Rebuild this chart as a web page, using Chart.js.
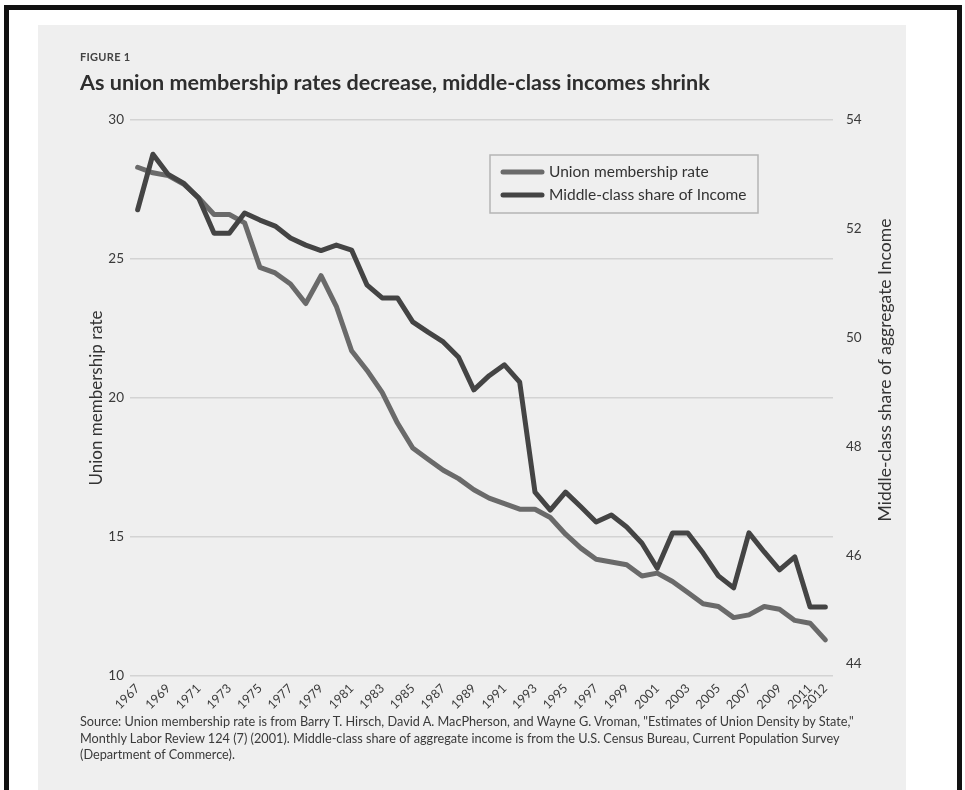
<!DOCTYPE html>
<html>
<head>
<meta charset="utf-8">
<script src="https://cdn.jsdelivr.net/npm/chart.js@4.4.1/dist/chart.umd.min.js"></script>
<style>
html,body{margin:0;padding:0;background:#fff;}
body{width:965px;height:790px;position:relative;overflow:hidden;font-family:Lato,"Open Sans",sans-serif;}
#frame{position:absolute;left:4px;top:5px;width:958px;height:800px;border:5px solid #111;box-sizing:border-box;}
#panel{position:absolute;left:38px;top:25px;width:868px;height:780px;background:#efefef;}
#chartBox{position:absolute;left:0;top:0;width:965px;height:790px;}
#fig{position:absolute;left:80px;top:50px;font-size:11px;font-weight:bold;color:#444;letter-spacing:.3px;}
#title{position:absolute;left:80px;top:69px;font-size:21.6px;font-weight:bold;color:#2e2e2e;}
#source{position:absolute;left:80px;top:713px;width:840px;font-size:12.7px;line-height:16.5px;color:#3a3a3a;}
</style>
</head>
<body>
<div id="frame"></div>
<div id="panel"></div>
<div id="chartBox"><canvas id="chart" width="965" height="790"></canvas></div>
<div id="fig">FIGURE 1</div>
<div id="title">As union membership rates decrease, middle-class incomes shrink</div>
<div id="source">Source: Union membership rate is from Barry T. Hirsch, David A. MacPherson, and Wayne G. Vroman, "Estimates of Union Density by State,"<br>Monthly Labor Review 124 (7) (2001). Middle-class share of aggregate income is from the U.S. Census Bureau, Current Population Survey<br>(Department of Commerce).</div>
<script>
// --- data ---
const years = ["1967","1968","1969","1970","1971","1972","1973","1974","1975","1976",
  "1977","1978","1979","1980","1981","1982","1983","1984","1985","1986",
  "1987","1988","1989","1990","1991","1992","1993","1994","1995","1996",
  "1997","1998","1999","2000","2001","2002","2003","2004","2005","2006",
  "2007","2008","2009","2010","2011","2012"];

// union membership rate (%), left axis
const unionRate = [28.3,28.1,28.0,27.7,27.2,26.6,26.6,26.3,24.7,24.5,
  24.1,23.4,24.4,23.3,21.7,21.0,20.2,19.1,18.2,17.8,
  17.4,17.1,16.7,16.4,16.2,16.0,16.0,15.7,15.1,14.6,
  14.2,14.1,14.0,13.6,13.7,13.4,13.0,12.6,12.5,12.1,
  12.2,12.5,12.4,12.0,11.9,11.3];

// middle-class share of aggregate income (%), right axis
const middleShare = [52.35,53.37,53.0,52.84,52.56,51.92,51.92,52.29,52.16,52.05,
  51.83,51.7,51.6,51.7,51.61,50.97,50.73,50.73,50.29,50.1,
  49.92,49.64,49.04,49.3,49.5,49.18,47.16,46.83,47.16,46.89,
  46.61,46.74,46.52,46.22,45.76,46.41,46.41,46.04,45.62,45.4,
  46.41,46.06,45.73,45.97,45.05,45.05];

const leftTicks = [10,15,20,25,30];
const rightTicks = [44,46,48,50,52,54];
const leftTitle = "Union membership rate";
const rightTitle = "Middle-class share of aggregate Income";
const seriesNames = ["Union membership rate","Middle-class share of Income"];

const FONT = "Lato, 'Open Sans', sans-serif";

// right axis title reads bottom-to-top, so draw it by hand
const rightTitlePlugin = {
  id:"rightTitle",
  afterDraw(chart){
    const c=chart.ctx, s=chart.scales.y1;
    c.save();
    c.translate(s.left+52, 370);
    c.rotate(-Math.PI/2);
    c.font="17.5px "+FONT;
    c.fillStyle="#333";
    c.textAlign="center";
    c.textBaseline="middle";
    c.fillText(rightTitle,0,0);
    c.restore();
  }
};

// boxed legend inside the plot
const boxLegend = {
  id:"boxLegend",
  afterDraw(chart){
    const c=chart.ctx, a=chart.chartArea;
    const x=a.left+360, y=a.top+35, w=268, h=58;
    c.save();
    c.strokeStyle="#b5b5b5";
    c.lineWidth=1.5;
    c.strokeRect(x,y,w,h);
    chart.data.datasets.forEach((ds,i)=>{
      const ly=y+17+i*23;
      c.strokeStyle=ds.borderColor;
      c.lineWidth=5;
      c.lineCap="round";
      c.beginPath();c.moveTo(x+13,ly);c.lineTo(x+52,ly);c.stroke();
      c.font="15.5px "+FONT;
      c.fillStyle="#333";
      c.textBaseline="middle";
      c.fillText(seriesNames[i],x+59,ly);
    });
    c.restore();
  }
};

const ctx=document.getElementById("chart").getContext("2d");
new Chart(ctx,{
  type:"line",
  data:{
    labels:years,
    datasets:[
      {label:seriesNames[0],data:unionRate,yAxisID:"y",borderColor:"#6a6a6a",borderWidth:5,
       pointRadius:0,tension:0,borderJoinStyle:"round",borderCapStyle:"round",order:1},
      {label:seriesNames[1],data:middleShare,yAxisID:"y1",borderColor:"#444444",borderWidth:5,
       pointRadius:0,tension:0,borderJoinStyle:"round",borderCapStyle:"round",order:0}
    ]
  },
  options:{
    responsive:false,
    animation:false,
    layout:{padding:{left:83,right:60,top:120,bottom:70}},
    plugins:{legend:{display:false},tooltip:{enabled:false}},
    scales:{
      x:{
        offset:true,
        grid:{display:false,drawTicks:false},
        border:{display:false},
        ticks:{autoSkip:false,minRotation:45,maxRotation:45,padding:5,color:"#3a3a3a",
          font:{family:FONT,size:12.5},
          callback:function(v,i){return (i%2===0||i===years.length-1)?years[i]:"";}},
        afterFit:s=>{s.height=44;}
      },
      y:{
        position:"left",min:10,max:30,
        grid:{color:"#d3d3d3",lineWidth:1.5,drawTicks:false},
        border:{display:false},
        ticks:{padding:6,color:"#3a3a3a",font:{family:FONT,size:13.5}},
        afterBuildTicks:s=>{s.ticks=leftTicks.map(v=>({value:v}));},
        title:{display:true,text:leftTitle,color:"#333",font:{family:FONT,size:17},padding:{top:3,bottom:0}},
        afterFit:s=>{s.width=47;}
      },
      y1:{
        position:"right",min:43.78,max:54,
        grid:{display:false,drawTicks:false},
        border:{display:false},
        ticks:{padding:13,color:"#3a3a3a",font:{family:FONT,size:13.5}},
        afterBuildTicks:s=>{s.ticks=rightTicks.map(v=>({value:v}));},
        afterFit:s=>{s.width=72;}
      }
    }
  },
  plugins:[rightTitlePlugin,boxLegend]
});
</script>
</body>
</html>
